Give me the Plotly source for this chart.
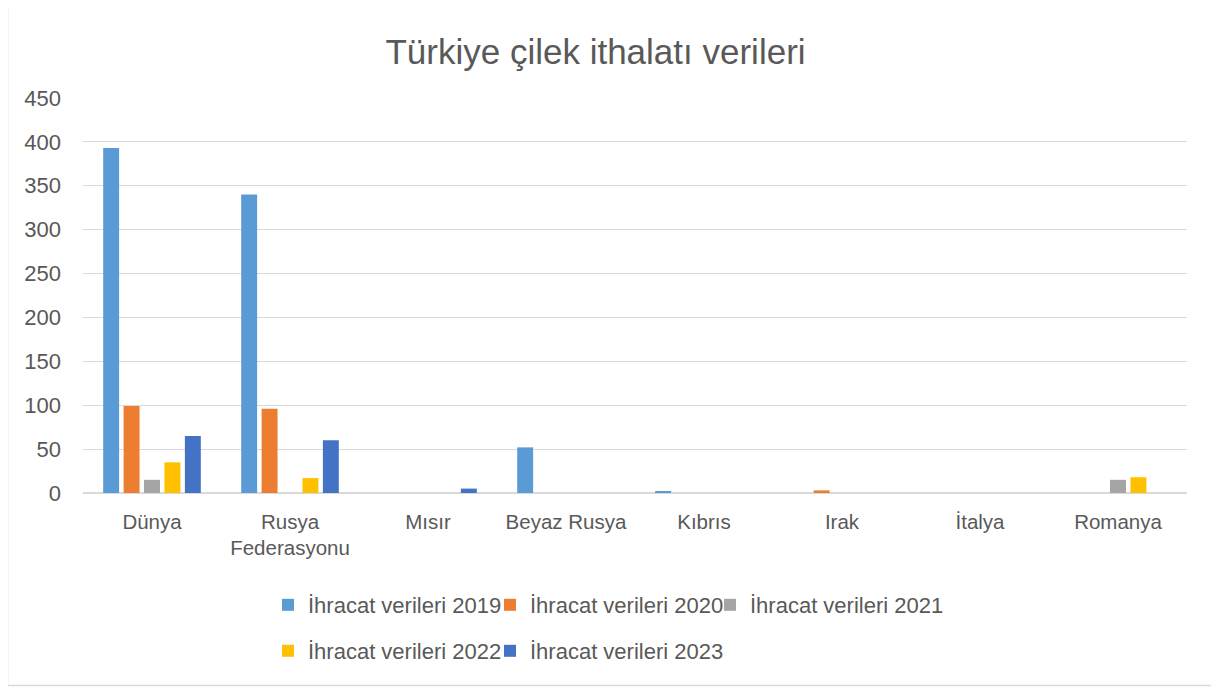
import plotly.graph_objects as go

categories = ["Dünya", "Rusya<br>Federasyonu", "Mısır", "Beyaz Rusya", "Kıbrıs", "Irak", "İtalya", "Romanya"]
series_names = ["İhracat verileri 2019", "İhracat verileri 2020", "İhracat verileri 2021",
                "İhracat verileri 2022", "İhracat verileri 2023"]
v2019 = [393, 340, 0, 52, 1.5, 0, 0, 0]
v2020 = [99, 96, 0, 0, 0, 3, 0, 0]
v2021 = [15, 0, 0, 0, 0, 0, 0, 15]
v2022 = [35, 17, 0, 0, 0, 0, 0, 18]
v2023 = [65, 60, 5, 0, 0, 0, 0, 0]
colors = ["#5B9BD5", "#ED7D31", "#A5A5A5", "#FFC000", "#4472C4"]
y_ticks = [0, 50, 100, 150, 200, 250, 300, 350, 400, 450]

OFF = 8  # page body margin
W, H = 1219 - OFF, 691 - OFF
ml = 83 - OFF
mt = 98 - OFF
mr = W - (1187 - OFF)
mb = H - (493 - OFF)
pw = W - ml - mr
ph = H - mt - mb


def px_to_x(px):
    return (px - OFF - ml) / pw


def py_to_y(py):
    return (H - mb - (py - OFF)) / ph


font = "Liberation Sans Narrow, Arial Narrow, Liberation Sans, sans-serif"
legend_ids = ["legend", "legend2", "legend3", "legend4", "legend5"]
legend_pos = [(268, 605), (490, 605), (710, 605), (268, 651), (490, 651)]

fig = go.Figure()
all_vals = [v2019, v2020, v2021, v2022, v2023]
for i, (name, vals, c) in enumerate(zip(series_names, all_vals, colors)):
    fig.add_trace(go.Bar(
        x=categories, y=vals, name=name, marker=dict(color=c, line=dict(width=0)),
        legend=legend_ids[i],
    ))

legends = {}
for lid, (lx, ly) in zip(legend_ids, legend_pos):
    legends[lid] = dict(orientation="h", xanchor="left", yanchor="middle",
                        x=px_to_x(lx), y=py_to_y(ly),
                        font=dict(size=22, color="#595959"), itemwidth=30,
                        bgcolor="rgba(0,0,0,0)")

fig.update_layout(
    width=W, height=H,
    margin=dict(l=ml, r=mr, t=mt, b=mb),
    paper_bgcolor="white", plot_bgcolor="white",
    font=dict(family=font, color="#595959", size=21),
    title=dict(text="Türkiye çilek ithalatı verileri", xref="paper", x=px_to_x(595.5),
               xanchor="center",
               y=1 - (52 - OFF) / H, yanchor="middle",
               font=dict(family=font, size=35, color="#595959")),
    barmode="group", bargap=0.26, bargroupgap=0.22,
    xaxis=dict(showgrid=False, showline=True, linecolor="#D9D9D9", linewidth=1,
               ticks="", ticklabelstandoff=10,
               tickfont=dict(size=20.5, color="#595959")),
    yaxis=dict(range=[0, 450], tickvals=y_ticks, showgrid=True, gridcolor="#D9D9D9",
               gridwidth=1, zeroline=True, zerolinecolor="#D9D9D9", ticks="",
               ticklabelstandoff=21,
               tickfont=dict(size=22, color="#595959")),
    showlegend=True,
    **legends,
)

fig.add_shape(type="rect", xref="paper", yref="paper",
              x0=px_to_x(7.5), x1=px_to_x(1215.5), y0=py_to_y(685.5), y1=py_to_y(-2),
              line=dict(color="#D9D9D9", width=1.5), fillcolor="rgba(0,0,0,0)", layer="below")

fig.write_html("out.html")
